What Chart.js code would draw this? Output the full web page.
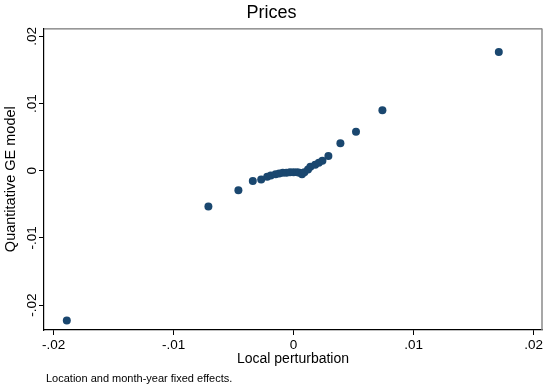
<!DOCTYPE html>
<html>
<head>
<meta charset="utf-8">
<title>Prices</title>
<script src="https://cdn.jsdelivr.net/npm/chart.js@4"></script>
<style>
    html, body { margin: 0; padding: 0; background: #fff; }
    #wrap { width: 546px; height: 385px; }
</style>
</head>
<body>
<div id="wrap"><canvas id="pricesChart"></canvas></div>
<script>
// Local perturbation (x) vs quantitative GE model (y), one point per location
const xValues = [-0.0189, -0.0071, -0.0046, -0.0034, -0.0027, -0.0022, -0.0019, -0.0015,
    -0.0012, -0.0009, -0.0006, -0.0003, 0.0000, 0.0003, 0.0005, 0.0007, 0.0009, 0.0012,
    0.0014, 0.0018, 0.0021, 0.0024, 0.0029, 0.0039, 0.0052, 0.0074, 0.0171];
const yValues = [-0.0223, -0.0053, -0.0029, -0.0015, -0.0013, -0.0009, -0.0007, -0.0005,
    -0.0004, -0.0003, -0.0003, -0.0002, -0.0002, -0.0002, -0.0003, -0.0005, -0.0002, 0.0002,
    0.0006, 0.0009, 0.0012, 0.0015, 0.0022, 0.0041, 0.0058, 0.0090, 0.0177];

const xTicks = [-0.02, -0.01, 0, 0.01, 0.02];
const xTickLabels = ['-.02', '-.01', '0', '.01', '.02'];
const yTicks = [-0.02, -0.01, 0, 0.01, 0.02];
const yTickLabels = ['-.02', '-.01', '0', '.01', '.02'];

const FONT = "'Liberation Sans', Arial, Helvetica, sans-serif";
const DOT = '#1a476f';

// Draws top/right frame, rotated y tick labels and the footnote
const stataFrame = {
    id: 'stataFrame',
    afterDraw(chart) {
        const ctx = chart.ctx;
        const a = chart.chartArea;
        ctx.save();
        // top and right edges of the plot box
        ctx.strokeStyle = '#555';
        ctx.lineWidth = 1;
        ctx.beginPath();
        ctx.moveTo(a.left, a.top + 0.5);
        ctx.lineTo(a.right, a.top + 0.5);
        ctx.stroke();
        ctx.strokeStyle = '#8a8a8a';
        ctx.lineWidth = 1.5;
        ctx.beginPath();
        ctx.moveTo(a.right, a.top);
        ctx.lineTo(a.right, a.bottom);
        ctx.stroke();

        // vertical y tick labels
        const yScale = chart.scales.y;
        ctx.fillStyle = '#000';
        ctx.font = '13.5px ' + FONT;
        ctx.textAlign = 'center';
        ctx.textBaseline = 'middle';
        yTicks.forEach((v, i) => {
            const py = yScale.getPixelForValue(v);
            ctx.save();
            ctx.translate(32, py);
            ctx.rotate(-Math.PI / 2);
            ctx.fillText(yTickLabels[i], 0, 0);
            ctx.restore();
        });

        // note under the graph
        ctx.font = '11px ' + FONT;
        ctx.textAlign = 'left';
        ctx.fillText('Location and month-year fixed effects.', 46, 379);
        ctx.restore();
    }
};

document.addEventListener('DOMContentLoaded', function() {
    const points = xValues.map((x, i) => ({ x: x, y: yValues[i] }));

    new Chart(document.getElementById('pricesChart'), {
        type: 'scatter',
        data: {
            datasets: [{
                data: points,
                backgroundColor: DOT,
                borderColor: DOT,
                borderWidth: 0,
                pointRadius: 4,
                pointHoverRadius: 4
            }]
        },
        options: {
            responsive: true,
            maintainAspectRatio: false,
            animation: false,
            layout: {
                padding: { left: 0, right: 3, top: 0, bottom: 0 }
            },
            plugins: {
                legend: { display: false },
                tooltip: { enabled: false },
                title: {
                    display: true,
                    text: 'Prices',
                    color: '#000',
                    font: { family: FONT, size: 18, weight: 'normal' },
                    padding: { top: 2, bottom: 4.8 }
                }
            },
            scales: {
                x: {
                    type: 'linear',
                    min: -0.0208,
                    max: 0.0207,
                    afterBuildTicks: function(scale) {
                        scale.ticks = xTicks.map(v => ({ value: v }));
                    },
                    afterFit: function(scale) {
                        scale.height = 55;
                    },
                    ticks: {
                        color: '#000',
                        font: { family: FONT, size: 13.5 },
                        padding: 2,
                        maxRotation: 0,
                        callback: function(value) {
                            const i = xTicks.findIndex(t => Math.abs(t - value) < 1e-9);
                            return i >= 0 ? xTickLabels[i] : '';
                        }
                    },
                    grid: {
                        display: true,
                        drawOnChartArea: false,
                        drawTicks: true,
                        tickLength: 5,
                        color: '#000'
                    },
                    border: { display: true, color: '#000', width: 1.2 },
                    title: {
                        display: true,
                        text: 'Local perturbation',
                        color: '#000',
                        font: { family: FONT, size: 14 },
                        padding: { top: 0, bottom: 17 }
                    }
                },
                y: {
                    type: 'linear',
                    min: -0.0237,
                    max: 0.0212,
                    afterBuildTicks: function(scale) {
                        scale.ticks = yTicks.map(v => ({ value: v }));
                    },
                    afterFit: function(scale) {
                        scale.width = 44;
                    },
                    ticks: {
                        display: false
                    },
                    grid: {
                        display: true,
                        drawOnChartArea: false,
                        drawTicks: true,
                        tickLength: 5,
                        color: '#000'
                    },
                    border: { display: true, color: '#000', width: 1.2 },
                    title: {
                        display: true,
                        text: 'Quantitative GE model',
                        color: '#000',
                        font: { family: FONT, size: 14.5 },
                        padding: { top: 2.5, bottom: 0 }
                    }
                }
            }
        },
        plugins: [stataFrame]
    });
});
</script>
</body>
</html>
